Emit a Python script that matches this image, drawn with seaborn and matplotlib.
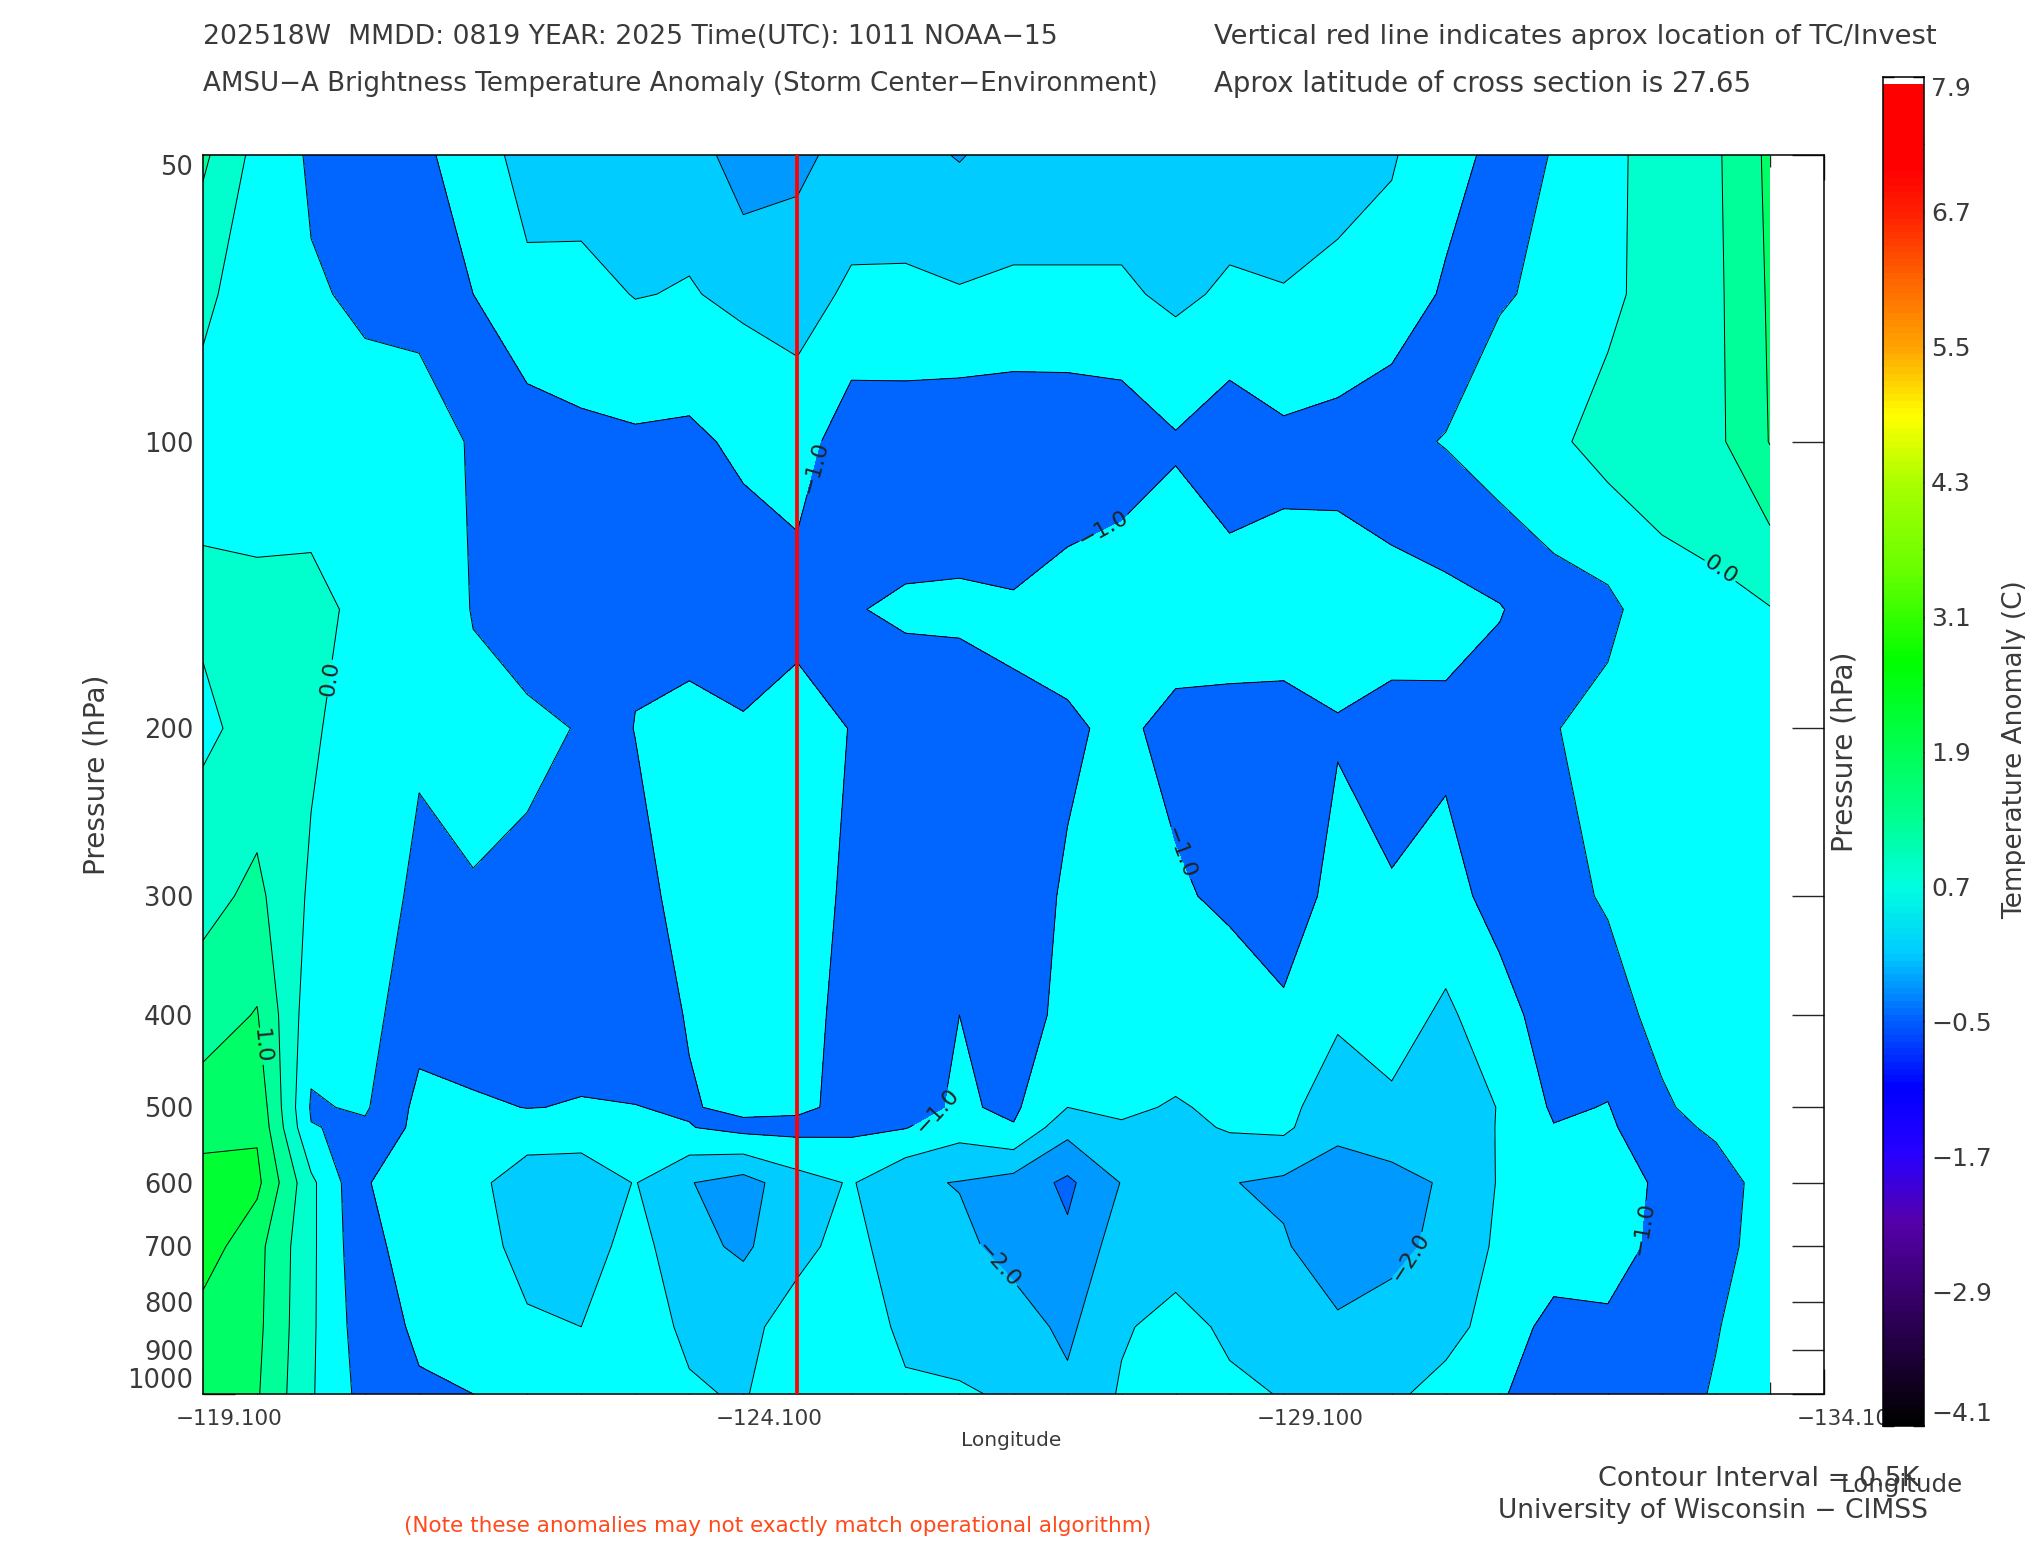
import numpy as np
import matplotlib
matplotlib.use("Agg")
import matplotlib.pyplot as plt
from matplotlib.colors import LinearSegmentedColormap
from matplotlib.transforms import ScaledTranslation
import seaborn as sns

# pressure rows (hPa), one value per row in every column below
pressure = [50, 70, 100, 150, 200, 300, 400, 500, 525, 600, 700, 850, 1000]

# anomaly per longitude column, -119.1 going west in 0.5 deg steps
col_00 = [.6, .07, -.13, .08, -.1, .34, .77, 1.22, 1.34, 1.68, 1.75, 1.29, 1.2]
col_01 = [-.16, -.18, -.2, .09, .17, .615, 1.03, 1.36, 1.43, 1.62, 1.16, 1.12, 1.05]
col_02 = [-.56, -.46, -.41, .21, .08, -.08, -.3, -.55, -.48, .11, .1, .08, .05]
col_03 = [-.75, -.56, -.36, -.19, -.3, -.3, -.32, -.44, -.58, -.98, -.9, -.79, -.68]
col_04 = [-.91, -.6, -.35, -.2, -.45, -.58, -.82, -1.13, -1.14, -1.16, -1.15, -1.07, -.95]
col_05 = [-1.2, -1.0, -.53, -.52, -.4, -.52, -.7, -1.07, -1.15, -1.35, -1.25, -1.15, -1.0]
col_06 = [-1.72, -1.37, -.76, -.6, -.46, -.54, -.8, -.99, -1.2, -1.8, -1.7, -1.42, -1.3]
col_07 = [-1.76, -1.34, -.9, -.7, -.51, -.7, -.85, -1.02, -1.26, -1.78, -1.75, -1.5, -1.35]
col_08 = [-1.75, -1.52, -.93, -.88, -1.02, -.7, -.7, -1.01, -1.14, -1.48, -1.3, -1.25, -1.15]
col_09 = [-1.7, -1.47, -.9, -.85, -1.1, -1.33, -1.04, -.95, -1.02, -1.98, -1.86, -1.6, -1.44]
col_10 = [-2.3, -1.6, -1.1, -.7, -1.05, -1.3, -1.3, -1.15, -.85, -2.2, -2.08, -1.65, -1.55]
col_11 = [-2.13, -1.69, -1.24, -.79, -1.26, -1.45, -1.3, -1.1, -.85, -1.7, -1.65, -1.27, -1.1]
col_12 = [-1.8, -1.42, -.7, -.98, -.98, -.82, -.74, -.86, -.9, -1.46, -1.3, -1.1, -1.05]
col_13 = [-1.85, -1.4, -.72, -1.05, -.8, -.7, -.65, -.85, -.98, -1.93, -1.85, -1.65, -1.4]
col_14 = [-2.03, -1.46, -.65, -1.08, -.75, -.6, -1.0, -1.06, -1.3, -2.02, -1.9, -1.7, -1.45]
col_15 = [-1.8, -1.42, -.62, -1.05, -.95, -.8, -.75, -.92, -1.03, -2.2, -2.15, -1.8, -1.56]
col_16 = [-1.8, -1.42, -.63, -1.22, -.93, -1.05, -1.15, -1.5, -1.83, -2.6, -2.4, -2.1, -1.9]
col_17 = [-1.8, -1.42, -.7, -1.34, -1.1, -1.4, -1.35, -1.42, -1.55, -1.98, -1.75, -1.55, -1.45]
col_18 = [-1.85, -1.6, -.95, -1.3, -.85, -1.07, -1.2, -1.54, -1.65, -1.85, -1.7, -1.35, -1.25]
col_19 = [-1.8, -1.42, -.7, -1.25, -.85, -.9, -1.29, -1.41, -1.45, -1.98, -1.8, -1.58, -1.42]
col_20 = [-1.85, -1.47, -.9, -1.15, -.9, -.8, -1.06, -1.35, -1.4, -2.09, -1.95, -1.7, -1.52]
col_21 = [-1.76, -1.33, -.86, -1.2, -.97, -1.12, -1.42, -1.8, -1.9, -2.2, -2.3, -1.92, -1.85]
col_22 = [-1.54, -1.32, -.645, -1.22, -.85, -1.03, -1.25, -1.6, -1.75, -2.15, -2.1, -1.85, -1.6]
col_23 = [-1.2, -.93, -.47, -1.15, -.9, -1.15, -1.6, -1.75, -1.8, -1.95, -1.9, -1.7, -1.3]
col_24 = [-.85, -.55, -.2, -1.03, -.75, -.85, -1.16, -1.48, -1.47, -1.46, -1.4, -1.25, -1.04]
col_25 = [-.46, -.39, -.1, -.7, -.52, -.65, -.8, -.93, -1.02, -1.15, -1.25, -.85, -.78]
col_26 = [-.15, -.13, .2, -.62, -.35, -.45, -.7, -1.02, -1.08, -1.28, -1.25, -.9, -.75]
col_27 = [.25, .25, .25, -.2, -.25, -.25, -.35, -.57, -.65, -.9, -.85, -.75, -.65]
col_28 = [.425, .4, .385, -.13, -.25, -.28, -.3, -.3, -.42, -.72, -.65, -.52, -.47]
col_29 = [1.11, 1.06, 1.02, -.02, -.1, -.15, -.2, -.25, -.27, -.3, -.3, -.3, -.3]

columns = [col_00, col_01, col_02, col_03, col_04, col_05, col_06, col_07, col_08, col_09,
           col_10, col_11, col_12, col_13, col_14, col_15, col_16, col_17, col_18, col_19,
           col_20, col_21, col_22, col_23, col_24, col_25, col_26, col_27, col_28, col_29]

# contour bands as the original colours them
levels = [-3, -2.5, -2, -1.5, -1, -.5, 0, .5, 1, 1.5, 2]
band_colors = ["#0066ff", "#0099ff", "#00ccff", "#00ffff", "#0066ff",
               "#00ffff", "#00ffcc", "#00ff99", "#00ff66", "#00ff33"]
plain_levels = [-3, -2.5, -1.5, -.5, .5, 1.5, 2]
labelled_levels = [-2, -1, 0, 1]

storm_lon = -124.6
x_major = [-119.1, -124.1, -129.1, -134.1]
x_labels = ["\u2212119.100", "\u2212124.100", "\u2212129.100", "\u2212134.100"]
y_ticks = [50, 100, 200, 300, 400, 500, 600, 700, 800, 900, 1000]

label_lon = [-120.24, -133.18, -119.67, -124.69, -127.41, -128.16, -125.85, -132.31, -126.55, -130.16]
label_p = [177, 134.6, 431, 105.9, 121.8, 270, 494, 668, 716, 700]

cbar_values = [-4.1, -2.9, -2.3, -1.7, -1.1, -.5, .1, .7, 1.3, 1.9, 2.7, 3.5, 4.3, 4.9, 5.5, 6.1, 6.7, 7.1, 7.9]
cbar_colors = ["#000000", "#3a0070", "#5500aa", "#2800ff", "#0000ff", "#0060ff", "#00ccff", "#00ffe0",
               "#00ff90", "#00ff55", "#00ff00", "#66ff00", "#aaff00", "#ffff00", "#ffa500", "#ff6600",
               "#ff2000", "#ff0000", "#ff0000"]
cbar_ticks = [-4.1, -2.9, -1.7, -.5, .7, 1.9, 3.1, 4.3, 5.5, 6.7, 7.9]

sns.set_style("ticks")
plt.rcParams['font.family'] = ['DejaVu Sans']
plt.rcParams['contour.negative_linestyle'] = 'solid'
TXT = "#3a3a3a"
W, H = 2025, 1550

lon = -119.1 - 0.5 * np.arange(30)
logp = np.log10(pressure)
anomaly = np.column_stack(columns)

fig = plt.figure(figsize=(W / 100, H / 100), dpi=100, facecolor="white")
ax = fig.add_axes([203 / W, 1 - 1394 / H, (1824 - 203) / W, (1394 - 155) / H])

palette = sns.color_palette(band_colors)
ax.contourf(lon, logp, anomaly, levels=levels, colors=palette, antialiased=False)
ax.contour(lon, logp, anomaly, levels=plain_levels, colors="black", linewidths=0.7)
cs = ax.contour(lon, logp, anomaly, levels=labelled_levels, colors="black", linewidths=0.7)
ax.axvline(storm_lon, color="#ff0000", lw=2.7, zorder=5)

ax.set_xlim(-119.1, -134.1)
ax.set_ylim(np.log10(1000), np.log10(50))

def fmt_level(v):
    return f"{v:.1f}".replace("-", "\u2212")

ax.clabel(cs, manual=list(zip(label_lon, np.log10(label_p))),
          fmt=fmt_level, fontsize=16, colors="#222222", inline_spacing=1)

# ticks
ax.set_xticks(x_major)
ax.set_xticklabels(x_labels, fontsize=15.5, color=TXT)
ax.set_xticks(-119.1 - 0.5 * np.arange(31), minor=True)
ax.tick_params(axis="x", which="major", direction="in", length=18, width=1, top=True, bottom=True, pad=11)
ax.tick_params(axis="x", which="minor", direction="in", length=8.6, width=1, top=True, bottom=True)
for lab in ax.get_xticklabels():
    lab.set_transform(lab.get_transform() + ScaledTranslation(26 / 100, 0, fig.dpi_scale_trans))

ax.set_yticks(np.log10(y_ticks))
ax.set_yticklabels([str(p) for p in y_ticks], fontsize=18.5, color=TXT)
ax.tick_params(axis="y", direction="in", length=23, width=1, left=True, right=True, pad=7)
ax.get_yticklabels()[0].set_va("top")
ax.get_yticklabels()[-1].set_va("bottom")
for s in ax.spines.values():
    s.set_visible(True)
    s.set_linewidth(1.1)
    s.set_color("black")


def put(x, y, s, size=19, color=TXT, **kw):
    fig.text(x / W, 1 - y / H, s, fontsize=size, color=color, va="center", **kw)


put(203, 37, "202518W  MMDD: 0819 YEAR: 2025 Time(UTC): 1011 NOAA\u221215", size=19.2)
put(203, 84, "AMSU\u2212A Brightness Temperature Anomaly (Storm Center\u2212Environment)", size=18.85)
put(1214, 37, "Vertical red line indicates aprox location of TC/Invest", size=19.7)
put(1214, 84, "Aprox latitude of cross section is 27.65", size=19.9)
put(96, 775, "Pressure (hPa)", size=20.2, rotation=90, ha="center")
put(1844, 752, "Pressure (hPa)", size=20.2, rotation=90, ha="center")
put(2015, 750, "Temperature Anomaly (C)", rotation=90, ha="center")
put(1011, 1441, "Longitude", size=14.5, ha="center")
put(1902, 1485, "Longitude", size=17.6, ha="center")
put(1920, 1479, "Contour Interval = 0.5K", size=19.5, ha="right")
put(1928, 1511, "University of Wisconsin \u2212 CIMSS", size=19.1, ha="right")
put(778, 1526, "(Note these anomalies may not exactly match operational algorithm)", size=15.5, color="#ff4a1c", ha="center")

# colour bar on top of the last x label
cmap = LinearSegmentedColormap.from_list(
    "tb", [((v + 4.1) / 12, c) for v, c in zip(cbar_values, cbar_colors)], N=200)
cax = fig.add_axes([1883 / W, 1 - 1426 / H, 41 / W, (1426 - 77) / H], zorder=10)
n_steps = 200
ramp = np.linspace(7.9, -4.1, n_steps).reshape(-1, 1)
sns.heatmap(ramp, ax=cax, cmap=cmap, vmin=-4.1, vmax=7.9, cbar=False, mask=ramp > 7.84,
            xticklabels=False, yticklabels=False)
cax.set_yticks([(7.9 - v) / 12 * n_steps for v in cbar_ticks])
cax.set_yticklabels([fmt_level(v) for v in cbar_ticks], fontsize=18, color=TXT)
cax.set_yticks([(7.9 - v - 0.6) / 12 * n_steps for v in cbar_ticks[:-1]], minor=True)
cax.set_ylim(n_steps, 0)
cax.tick_params(axis="y", which="major", direction="in", length=8, width=1, left=True, right=True,
                labelleft=False, labelright=True, pad=5, color="black")
cax.tick_params(axis="y", which="minor", direction="in", length=5, width=1, left=True, right=True, color="black")
cax.get_yticklabels()[0].set_va("bottom")
cax.get_yticklabels()[-1].set_va("top")
for s in cax.spines.values():
    s.set_visible(True)
    s.set_linewidth(1.1)
    s.set_color("black")

fig.savefig("out.png", dpi=100, facecolor="white")
